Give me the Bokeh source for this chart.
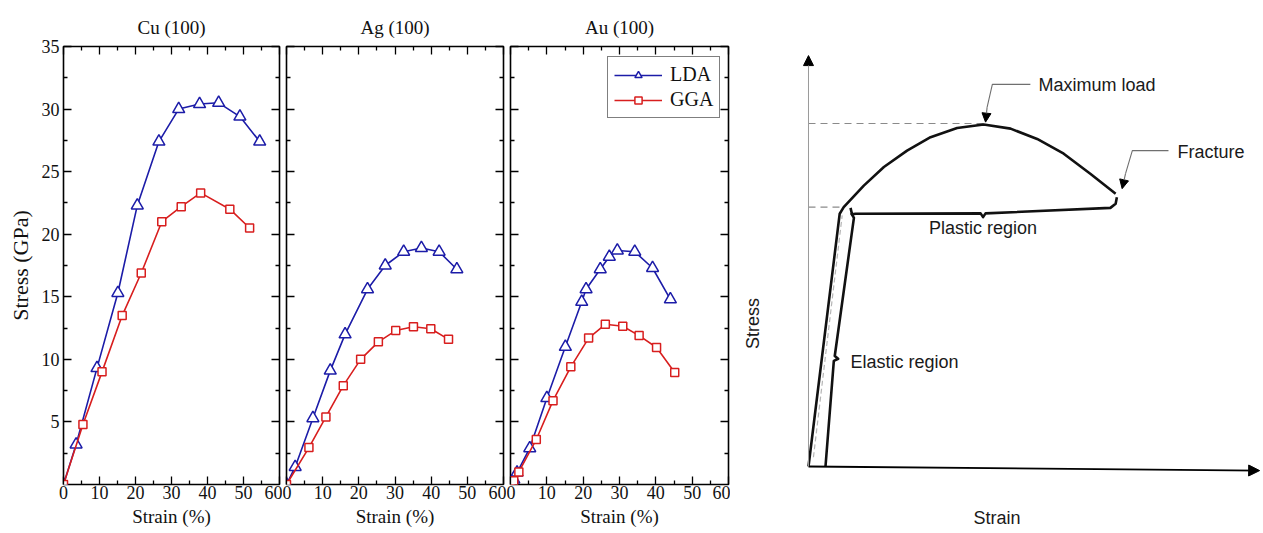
import math
from bokeh.plotting import figure
from bokeh.layouts import row
from bokeh.models import (Range1d, LinearAxis, FixedTicker, Legend, LegendItem,
                          Arrow, NormalHead, ColumnDataSource, CustomJSTickFormatter)
from bokeh.embed import file_html
from bokeh.resources import INLINE
from bokeh.core.properties import value

# ---------------- data: DFT stress-strain curves ----------------
panel_titles = ["Cu (100)", "Ag (100)", "Au (100)"]
series_names = ["LDA", "GGA"]

cu_lda_strain = [0, 3.5, 9.3, 15.1, 20.5, 26.5, 32.0, 37.8, 43.1, 49.0, 54.5]
cu_lda_stress = [0, 3.2, 9.3, 15.3, 22.3, 27.4, 30.0, 30.4, 30.5, 29.4, 27.4]
cu_gga_strain = [0, 5.4, 10.7, 16.3, 21.6, 27.3, 32.7, 38.1, 46.2, 51.7]
cu_gga_stress = [0, 4.8, 9.0, 13.5, 16.9, 21.0, 22.2, 23.3, 22.0, 20.5]

ag_lda_strain = [0, 2.4, 7.3, 12.1, 16.2, 22.4, 27.3, 32.4, 37.3, 42.2, 47.1]
ag_lda_stress = [0, 1.4, 5.3, 9.1, 12.0, 15.6, 17.5, 18.6, 18.9, 18.6, 17.2]
ag_gga_strain = [0, 6.2, 10.9, 15.7, 20.5, 25.4, 30.2, 35.1, 39.9, 44.8]
ag_gga_stress = [0, 2.95, 5.4, 7.9, 10.0, 11.4, 12.3, 12.6, 12.45, 11.6]

au_lda_strain = [0, 0.9, 1.8, 5.3, 10.0, 15.1, 19.6, 20.8, 24.7, 27.2, 29.4, 34.2, 39.1, 44.0]
au_lda_stress = [0, 0.4, 0.95, 2.9, 6.9, 11.0, 14.6, 15.6, 17.2, 18.2, 18.7, 18.6, 17.3, 14.8]
au_gga_strain = [0, 0.9, 2.3, 7.1, 11.7, 16.6, 21.5, 26.1, 30.9, 35.4, 40.2, 45.2]
au_gga_stress = [0, 0.3, 1.0, 3.6, 6.7, 9.4, 11.7, 12.8, 12.65, 11.9, 10.95, 8.95]

x_major_ticks = [0, 10, 20, 30, 40, 50, 60]
x_minor_ticks = [5, 15, 25, 35, 45, 55]
y_major_ticks = [5, 10, 15, 20, 25, 30, 35]
y_minor_ticks = [2.5, 7.5, 12.5, 17.5, 22.5, 27.5, 32.5]

# ---------------- data: schematic engineering stress-strain curve (arbitrary units) ----------------
curve_strain = [0, 10.1, 11.4, 17.9, 24.4, 31.9, 39.5, 48.1, 56.7, 65.4, 74.0, 82.6, 91.3, 99.4]
curve_stress = [0, 73.7, 75.6, 81.9, 87.3, 92.1, 96.0, 98.7, 99.7, 98.5, 95.5, 91.2, 85.3, 79.5]
elastic_guide_strain = [1.6, 10.9]
elastic_guide_stress = [2.7, 73.2]
elastic_brace_strain = [5.5, 8.2, 9.6, 8.5, 14.7, 13.8]
elastic_brace_stress = [0, 30.8, 31.4, 32.2, 72.5, 73.9]
plastic_brace_strain = [13.6, 14.1, 15.2, 55.7, 56.5, 57.3, 97.7, 99.4, 99.8]
plastic_brace_stress = [75.4, 73.5, 73.7, 73.8, 72.7, 73.8, 75.4, 76.6, 78.5]
maxload_level_strain = [0, 56.7]
maxload_level_stress = [100, 100]
yield_level_strain = [0, 10.4]
yield_level_stress = [75.6, 75.6]
maxload_leader_strain = [71.8, 59.5, 57.8]
maxload_leader_stress = [111.4, 111.4, 104.7]
fracture_leader_strain = [116.5, 104.8, 102.6]
fracture_leader_stress = [92.1, 92.1, 85.4]
pointer_start_strain = [57.8, 102.6]
pointer_start_stress = [104.7, 85.4]
pointer_end_strain = [57.3, 101.5]
pointer_end_stress = [100.4, 81.0]
axis_end_strain = [146.0, 0]
axis_end_stress = [-1.2, 119.8]
schem_labels = ["Maximum load", "Fracture", "Plastic region", "Elastic region", "Stress"]
schem_label_strain = [74.4, 119.4, 56.5, 13.6, -17.8]
schem_label_stress = [111.1, 91.6, 69.4, 30.4, 41.7]
schem_xlabel = "Strain"

# ---------------- styling ----------------
SERIF = "Liberation Serif"
SANS = "Liberation Sans"
LDA_COLOR = "#1c1ca8"
GGA_COLOR = "#d81e1e"
H = 533
TOP, BOTTOM = 46, 49
FRAME_H = H - TOP - BOTTOM


def make_axis(ticker, show_labels):
    a = LinearAxis(ticker=ticker, axis_line_color=None,
                   major_tick_in=8, major_tick_out=0, minor_tick_in=4, minor_tick_out=0,
                   major_tick_line_color="black", minor_tick_line_color="black",
                   major_tick_line_width=1.3, minor_tick_line_width=1.3)
    if show_labels:
        a.major_label_text_font = SERIF
        a.major_label_text_font_size = "18px"
        a.major_label_text_color = "#111111"
        a.major_label_standoff = 1
    else:
        a.formatter = CustomJSTickFormatter(code="return ''")
        a.major_label_text_font_size = "0px"
        a.major_label_standoff = 0
    return a


def make_panel(title, lx, ly, gx, gy, width, bl, br, first, legend=False):
    p = figure(width=width, height=H, x_range=Range1d(0, 60), y_range=Range1d(0, 35),
               x_axis_type=None, y_axis_type=None, toolbar_location=None,
               output_backend="svg", min_border_left=bl, min_border_right=br,
               min_border_top=TOP, min_border_bottom=BOTTOM, title=title)
    p.title.align = "center"
    p.title.text_font = SERIF
    p.title.text_font_size = "19px"
    p.title.text_font_style = "normal"
    p.title.text_color = "#111111"
    p.title.standoff = 17
    p.outline_line_color = "black"
    p.outline_line_width = 1.6
    p.outline_line_alpha = 1.0
    xt = FixedTicker(ticks=x_major_ticks, minor_ticks=x_minor_ticks)
    yt = FixedTicker(ticks=y_major_ticks, minor_ticks=y_minor_ticks)
    xb = make_axis(xt, True)
    xb.axis_label = "Strain (%)"
    xb.axis_label_text_font = SERIF
    xb.axis_label_text_font_size = "19px"
    xb.axis_label_text_font_style = "normal"
    xb.axis_label_text_color = "#111111"
    xb.axis_label_standoff = 4
    p.add_layout(xb, "below")
    p.add_layout(make_axis(xt, False), "above")
    yl = make_axis(yt, first)
    if first:
        yl.axis_label = "Stress (GPa)"
        yl.axis_label_text_font = SERIF
        yl.axis_label_text_font_size = "22px"
        yl.axis_label_text_font_style = "normal"
        yl.axis_label_text_color = "#111111"
        yl.axis_label_standoff = 6
        yl.major_label_standoff = 4
    p.add_layout(yl, "left")
    p.add_layout(make_axis(yt, False), "right")

    l1 = p.line(lx, ly, line_color=LDA_COLOR, line_width=1.6)
    m1 = p.scatter(lx, ly, marker="triangle", size=12, line_color=LDA_COLOR,
                   fill_color="white", line_width=1.5)
    l2 = p.line(gx, gy, line_color=GGA_COLOR, line_width=1.6)
    m2 = p.scatter(gx, gy, marker="square", size=8, line_color=GGA_COLOR,
                   fill_color="white", line_width=1.5)

    if legend:
        lg = Legend(items=[LegendItem(label=series_names[0], renderers=[l1, m1]),
                           LegendItem(label=series_names[1], renderers=[l2, m2])])
        lg.location = (97, FRAME_H - (118 - TOP))
        lg.label_text_font = SERIF
        lg.label_text_font_size = "20px"
        lg.label_text_color = "#111111"
        lg.label_height = 18
        lg.glyph_height = 18
        lg.glyph_width = 48
        lg.label_standoff = 8
        lg.padding = 6
        lg.spacing = 2
        lg.margin = 0
        lg.border_line_color = "black"
        lg.border_line_width = 1.3
        lg.background_fill_color = "white"
        lg.background_fill_alpha = 1.0
        p.add_layout(lg)
    return p


p_cu = make_panel(panel_titles[0], cu_lda_strain, cu_lda_stress, cu_gga_strain, cu_gga_stress,
                  282, 63, 3, True)
p_ag = make_panel(panel_titles[1], ag_lda_strain, ag_lda_stress, ag_gga_strain, ag_gga_stress,
                  224, 4, 3, False)
p_au = make_panel(panel_titles[2], au_lda_strain, au_lda_stress, au_gga_strain, au_gga_stress,
                  224, 4, 2, False, legend=True)

# ---------------- schematic panel ----------------
# frame is aligned with the left panels vertically
s = figure(width=533, height=H, x_range=Range1d(-25.24, 147.25), y_range=Range1d(-5.25, 122.45),
           x_axis_type=None, y_axis_type=None, toolbar_location=None, output_backend="svg",
           min_border_left=0, min_border_right=0, min_border_top=TOP, min_border_bottom=BOTTOM)
s.outline_line_color = None

sx_axis = LinearAxis(ticker=FixedTicker(ticks=[]), axis_line_color=None,
                     major_tick_out=0, minor_tick_out=0,
                     formatter=CustomJSTickFormatter(code="return ''"),
                     major_label_text_font_size="0px", major_label_standoff=0,
                     axis_label=schem_xlabel, axis_label_text_font=SANS,
                     axis_label_text_font_size="18px", axis_label_text_font_style="normal",
                     axis_label_text_color="#1a1a1a", axis_label_standoff=23)
s.add_layout(sx_axis, "below")

# axes (with arrow heads)
s.add_layout(Arrow(end=NormalHead(size=11, fill_color="black", line_color="black"),
                   x_start=0, y_start=0, x_end=axis_end_strain[0], y_end=axis_end_stress[0],
                   line_color="black", line_width=1.8))
s.add_layout(Arrow(end=NormalHead(size=10, fill_color="black", line_color="black"),
                   x_start=0, y_start=0, x_end=axis_end_strain[1], y_end=axis_end_stress[1],
                   line_color="#9a9a9a", line_width=1))

# reference dashed levels
s.line(maxload_level_strain, maxload_level_stress, line_color="#8a8a8a", line_width=1.2,
       line_dash="7 5")
s.line(yield_level_strain, yield_level_stress, line_color="#8a8a8a", line_width=1.2,
       line_dash="7 5")

# elastic guide line (thin gray) and the curve
s.line(elastic_guide_strain, elastic_guide_stress, line_color="#b5b5b5", line_width=1.2,
       line_dash="5 3")
s.line(curve_strain, curve_stress, line_color="#111111", line_width=2.6, line_join="round")

# braces
s.line(elastic_brace_strain, elastic_brace_stress, line_color="#111111", line_width=2.6,
       line_join="round")
s.line(plastic_brace_strain, plastic_brace_stress, line_color="#111111", line_width=2.6,
       line_join="round")

# leaders
s.multi_line([maxload_leader_strain, fracture_leader_strain],
             [maxload_leader_stress, fracture_leader_stress], line_color="#6f6f6f",
             line_width=1.1)
ptr_src = ColumnDataSource(dict(x0=pointer_start_strain, y0=pointer_start_stress,
                                x1=pointer_end_strain, y1=pointer_end_stress))
s.add_layout(Arrow(source=ptr_src, x_start="x0", y_start="y0", x_end="x1", y_end="y1",
                   end=NormalHead(size=9, fill_color="black", line_color="black"),
                   line_color="#6f6f6f", line_width=1.1))

lab_src = ColumnDataSource(dict(x=schem_label_strain, y=schem_label_stress, t=schem_labels,
                                a=[0, 0, 0, 0, math.pi / 2],
                                al=["left", "left", "center", "left", "center"]))
s.text(x="x", y="y", text="t", angle="a", text_align="al", text_baseline="middle",
       source=lab_src, text_font=value(SANS), text_font_size="18px", text_color="#1a1a1a")

layout = row(p_cu, p_ag, p_au, s, spacing=0)

with open("out.html", "w") as f:
    f.write(file_html(layout, INLINE))
